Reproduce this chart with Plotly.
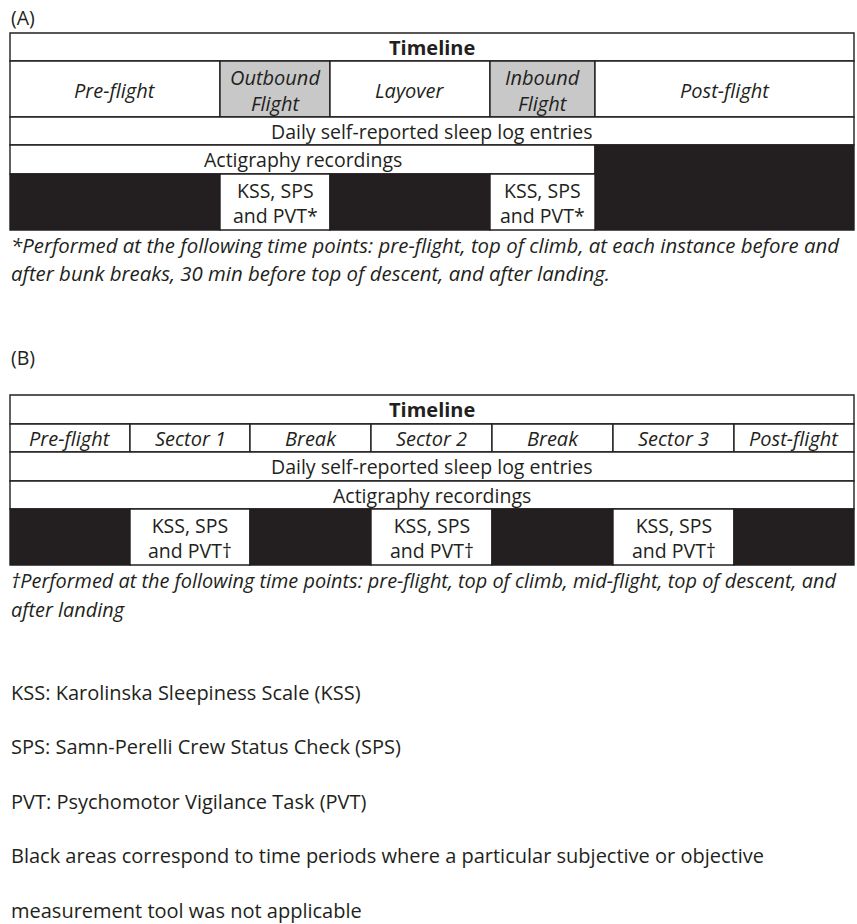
import plotly.graph_objects as go

# ---------------- data (labels) ----------------
panel_labels = ["(A)", "(B)"]
timeline_title = "Timeline"

a_phases = ["Pre-flight", "Outbound<br>Flight", "Layover", "Inbound<br>Flight", "Post-flight"]
a_phase_grey = [False, True, False, True, False]
a_sleep_log = "Daily self-reported sleep log entries"
a_actigraphy = "Actigraphy recordings"
a_actigraphy_cols = [True, True, True, True, False]          # applicable per phase
a_tests_cols = [False, True, False, True, False]
a_tests_label = "KSS, SPS<br>and PVT*"
a_footnote = ["*Performed at the following time points: pre-flight, top of climb, at each instance before and",
              "after bunk breaks, 30 min before top of descent, and after landing."]

b_phases = ["Pre-flight", "Sector 1", "Break", "Sector 2", "Break", "Sector 3", "Post-flight"]
b_sleep_log = "Daily self-reported sleep log entries"
b_actigraphy = "Actigraphy recordings"
b_tests_cols = [False, True, False, True, False, True, False]
b_tests_label = "KSS, SPS<br>and PVT\u2020"
b_footnote = ["\u2020Performed at the following time points: pre-flight, top of climb, mid-flight, top of descent, and",
              "after landing"]

legend_lines = ["KSS: Karolinska Sleepiness Scale (KSS)",
                "SPS: Samn-Perelli Crew Status Check (SPS)",
                "PVT: Psychomotor Vigilance Task (PVT)",
                "Black areas correspond to time periods where a particular subjective or objective",
                "measurement tool was not applicable"]

# ---------------- layout constants ----------------
W, H = 857, 924
X0, X1 = 10, 854
a_edges = [10, 220, 330, 490, 595, 854]
a_rows = [33, 61, 117, 145, 174, 230]
b_edges = [10, 130, 250, 371, 492, 613, 734, 854]
b_rows = [395, 424, 452, 481, 509, 565]

INK = "#231f20"
GREY = "#c8c8c8"
FONT = "Open Sans"
FS = 19.5
FS_HEAD = 20
FS_NOTE_A = 20.4
FS_NOTE_B = 19.9
FS_LEG = 20
LW = 1.4

shapes = []
annotations = []


def rect(x0, x1, y0, y1, fill="white"):
    shapes.append(dict(type="rect", xref="x", yref="y", x0=x0, x1=x1, y0=y0, y1=y1,
                       fillcolor=fill, line=dict(color=INK, width=LW), layer="below"))


def text(x, y, s, size=FS, anchor="center", color=INK, bold=False, italic=False):
    if italic:
        s = "<i>" + s.replace("<br>", "</i><br><i>") + "</i>"
    if bold:
        s = "<b>" + s + "</b>"
    annotations.append(dict(x=x, y=y, xref="x", yref="y", text=s, showarrow=False,
                            xanchor=anchor, yanchor="middle", align=anchor,
                            font=dict(family=FONT, size=size, color=color)))


def mid(a, b):
    return (a + b) / 2


# ---------------- Table A ----------------
r = a_rows
rect(X0, X1, r[0], r[1])
text(mid(X0, X1), mid(r[0], r[1]), timeline_title, size=FS_HEAD, bold=True)
for i, ph in enumerate(a_phases):
    rect(a_edges[i], a_edges[i + 1], r[1], r[2], fill=GREY if a_phase_grey[i] else "white")
    text(mid(a_edges[i], a_edges[i + 1]), mid(r[1], r[2]) + 1, ph, size=FS_HEAD, italic=True)
rect(X0, X1, r[2], r[3])
text(mid(X0, X1), mid(r[2], r[3]), a_sleep_log)
act_end = max(a_edges[i + 1] for i, v in enumerate(a_actigraphy_cols) if v)
rect(X0, act_end, r[3], r[4])
text(mid(X0, act_end), mid(r[3], r[4]), a_actigraphy)
for i, v in enumerate(a_actigraphy_cols):
    if not v:
        rect(a_edges[i], a_edges[i + 1], r[3], r[5], fill=INK)
for i, v in enumerate(a_tests_cols):
    if a_actigraphy_cols[i]:
        rect(a_edges[i], a_edges[i + 1], r[4], r[5], fill="white" if v else INK)
        if v:
            text(mid(a_edges[i], a_edges[i + 1]), mid(r[4], r[5]) + 1, a_tests_label)
for j, ln in enumerate(a_footnote):
    text(X0 - 1, 245 + 28 * j, ln, size=FS_NOTE_A, anchor="left", italic=True)

# ---------------- Table B ----------------
r = b_rows
rect(X0, X1, r[0], r[1])
text(mid(X0, X1), mid(r[0], r[1]), timeline_title, size=FS_HEAD, bold=True)
for i, ph in enumerate(b_phases):
    rect(b_edges[i], b_edges[i + 1], r[1], r[2])
    text(mid(b_edges[i], b_edges[i + 1]), mid(r[1], r[2]), ph, size=FS_HEAD, italic=True)
rect(X0, X1, r[2], r[3])
text(mid(X0, X1), mid(r[2], r[3]), b_sleep_log)
rect(X0, X1, r[3], r[4])
text(mid(X0, X1), mid(r[3], r[4]), b_actigraphy)
for i, v in enumerate(b_tests_cols):
    rect(b_edges[i], b_edges[i + 1], r[4], r[5], fill="white" if v else INK)
    if v:
        text(mid(b_edges[i], b_edges[i + 1]), mid(r[4], r[5]) + 1, b_tests_label)
for j, ln in enumerate(b_footnote):
    text(X0 - 1, 580 + 29 * j, ln, size=FS_NOTE_B, anchor="left", italic=True)

# ---------------- labels and legend ----------------
text(X0 - 1, 17, panel_labels[0], anchor="left")
text(X0 - 1, 357, panel_labels[1], anchor="left")
for j, ln in enumerate(legend_lines):
    text(X0 - 1, 692 + 54.5 * j, ln, size=FS_LEG, anchor="left")

fig = go.Figure()
fig.add_trace(go.Scatter(x=[0, W], y=[0, H], mode="markers", marker=dict(opacity=0), hoverinfo="skip",
                         showlegend=False))
fig.update_layout(
    width=W, height=H, margin=dict(l=0, r=0, t=0, b=0),
    paper_bgcolor="white", plot_bgcolor="white",
    xaxis=dict(range=[0, W], visible=False, fixedrange=True),
    yaxis=dict(range=[H, 0], visible=False, fixedrange=True),
    shapes=shapes, annotations=annotations, showlegend=False,
)
fig.write_html("out.html", config={"displayModeBar": False},
               post_script="document.body.style.margin='0';document.body.style.overflow='hidden';")
